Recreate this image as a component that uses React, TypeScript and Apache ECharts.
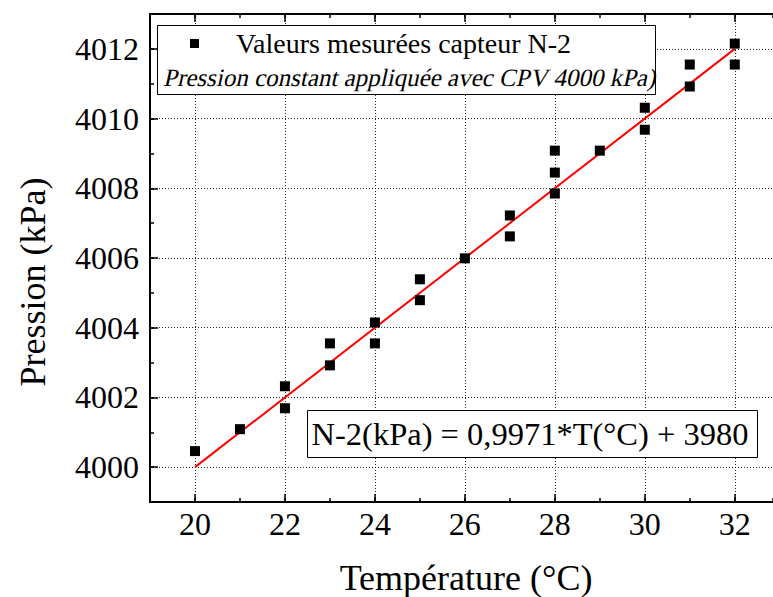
import React, { useEffect, useRef } from "react";
import * as echarts from "echarts";

const temperatures = [20, 21, 22, 22, 23, 23, 24, 24, 25, 25, 26, 27, 27, 28, 28, 28, 29, 30, 30, 31, 31, 32, 32];
const pressures = [4000.46, 4001.09, 4002.32, 4001.69, 4003.55, 4002.92, 4004.15, 4003.55, 4005.39, 4004.79, 4005.99, 4007.22, 4006.62, 4009.08, 4008.45, 4007.85, 4009.08, 4010.31, 4009.68, 4011.55, 4010.92, 4012.15, 4011.55];
const fitX = [20, 32];
const fitY = [4000.0, 4012.0];
const xTicks = [20, 22, 24, 26, 28, 30, 32];
const yTicks = [4000, 4002, 4004, 4006, 4008, 4010, 4012];
const seriesName = "Valeurs mesurées capteur N-2";
const subtitle = "Pression constant appliquée avec CPV 4000 kPa)";
const equation = "N-2(kPa) = 0,9971*T(°C) + 3980";
const xName = "Température (°C)";
const yName = "Pression (kPa)";

const FONT = "Liberation Serif";

export default function App() {
  const ref = useRef<HTMLDivElement>(null);
  useEffect(() => {
    if (!ref.current) return;
    const chart = echarts.init(ref.current, undefined, { renderer: "svg" });
    const X_MIN = 19, X_MAX = 32.85, Y_MIN = 3999, Y_MAX = 4013;
    const lineStyle = { color: "#000", width: 2 };
    const fmt = (v: number) => String(Math.round(v));
    const gridStyle = { color: "#222", type: [1, 2], width: 1 };
    const mainX = (pos: "bottom" | "top", labels: boolean) => ({
      type: "value", position: pos, min: X_MIN, max: X_MAX, gridIndex: 0,
      axisLine: { show: true, onZero: false, lineStyle },
      axisTick: { show: true, inside: true, length: 8, customValues: xTicks, lineStyle: { color: "#000", width: 1.5 } },
      axisLabel: labels
        ? { show: true, customValues: xTicks, formatter: fmt, color: "#000", fontSize: 32, fontFamily: FONT, margin: 6 }
        : { show: false },
      splitLine: labels ? { show: true, lineStyle: gridStyle } : { show: false },
    });
    const minorX = (pos: "bottom" | "top") => ({
      type: "value", position: pos, min: X_MIN, max: X_MAX, interval: 1, gridIndex: 0,
      axisLine: { show: false, onZero: false },
      axisTick: { show: true, inside: true, length: 4, lineStyle: { color: "#000", width: 1.5 } },
      axisLabel: { show: false },
      splitLine: { show: false },
    });
    const mainY = (labels: boolean) => ({
      type: "value", position: "left", min: Y_MIN, max: Y_MAX, gridIndex: 0,
      axisLine: { show: labels, onZero: false, lineStyle },
      axisTick: { show: true, inside: true, length: 8, customValues: yTicks, lineStyle: { color: "#000", width: 1.5 } },
      axisLabel: labels
        ? { show: true, customValues: yTicks, formatter: fmt, color: "#000", fontSize: 32, fontFamily: FONT, margin: 11 }
        : { show: false },
      splitLine: labels ? { show: true, lineStyle: gridStyle } : { show: false },
    });
    const minorY = () => ({
      type: "value", position: "left", min: Y_MIN, max: Y_MAX, interval: 1, gridIndex: 0,
      axisLine: { show: false, onZero: false },
      axisTick: { show: true, inside: true, length: 4, lineStyle: { color: "#000", width: 1.5 } },
      axisLabel: { show: false },
      splitLine: { show: false },
    });

    const text = (s: string, x: number, y: number, size: number, extra: any = {}) => {
      const { align, ...rest } = extra;
      return {
        type: "text", z: 101, x, y, ...rest,
        style: {
          text: s, fill: "#000", fontFamily: FONT, fontSize: size,
          textAlign: align || "left", textVerticalAlign: "middle",
        },
      };
    };

    const option: any = {
      animation: false,
      backgroundColor: "#fff",
      grid: { left: 150, top: 14, right: 0, height: 488, containLabel: false },
      xAxis: [mainX("bottom", true), minorX("bottom"), mainX("top", false), minorX("top")],
      yAxis: [mainY(true), minorY()],
      series: [
        {
          name: "fit",
          type: "line",
          xAxisIndex: 0, yAxisIndex: 0,
          data: fitX.map((x, i) => [x, fitY[i]]),
          symbol: "none",
          lineStyle: { color: "#ff0000", width: 2 },
          z: 3,
        },
        {
          name: seriesName,
          type: "scatter",
          xAxisIndex: 0, yAxisIndex: 0,
          data: temperatures.map((t, i) => [t, pressures[i]]),
          symbol: "rect",
          symbolSize: 10,
          itemStyle: { color: "#000", opacity: 1 },
          z: 4,
        },
      ],
      graphic: [
        {
          type: "rect", z: 100,
          shape: { x: 157.5, y: 25.5, width: 498, height: 69 },
          style: { fill: "#fff", stroke: "#000", lineWidth: 1 },
        },
        {
          type: "rect", z: 101,
          shape: { x: 190, y: 39, width: 9, height: 9 },
          style: { fill: "#000" },
        },
        text(seriesName, 236, 43, 28),
        text(subtitle, 165, 77, 25, { skewX: -0.22 }),
        {
          type: "rect", z: 100,
          shape: { x: 307.5, y: 410.5, width: 450, height: 47 },
          style: { fill: "#fff", stroke: "#000", lineWidth: 1 },
        },
        text(equation, 530, 434, 32.5, { align: "center" }),
        text(xName, 466, 578, 36, { align: "center" }),
        text(yName, 33, 282, 36, { align: "center", rotation: Math.PI / 2 }),
      ],
    };
    chart.setOption(option);
    return () => chart.dispose();
  }, []);
  return (
    <div
      ref={ref}
      style={{ position: "fixed", left: 0, top: 0, width: 773, height: 597, background: "#fff" }}
    />
  );
}
